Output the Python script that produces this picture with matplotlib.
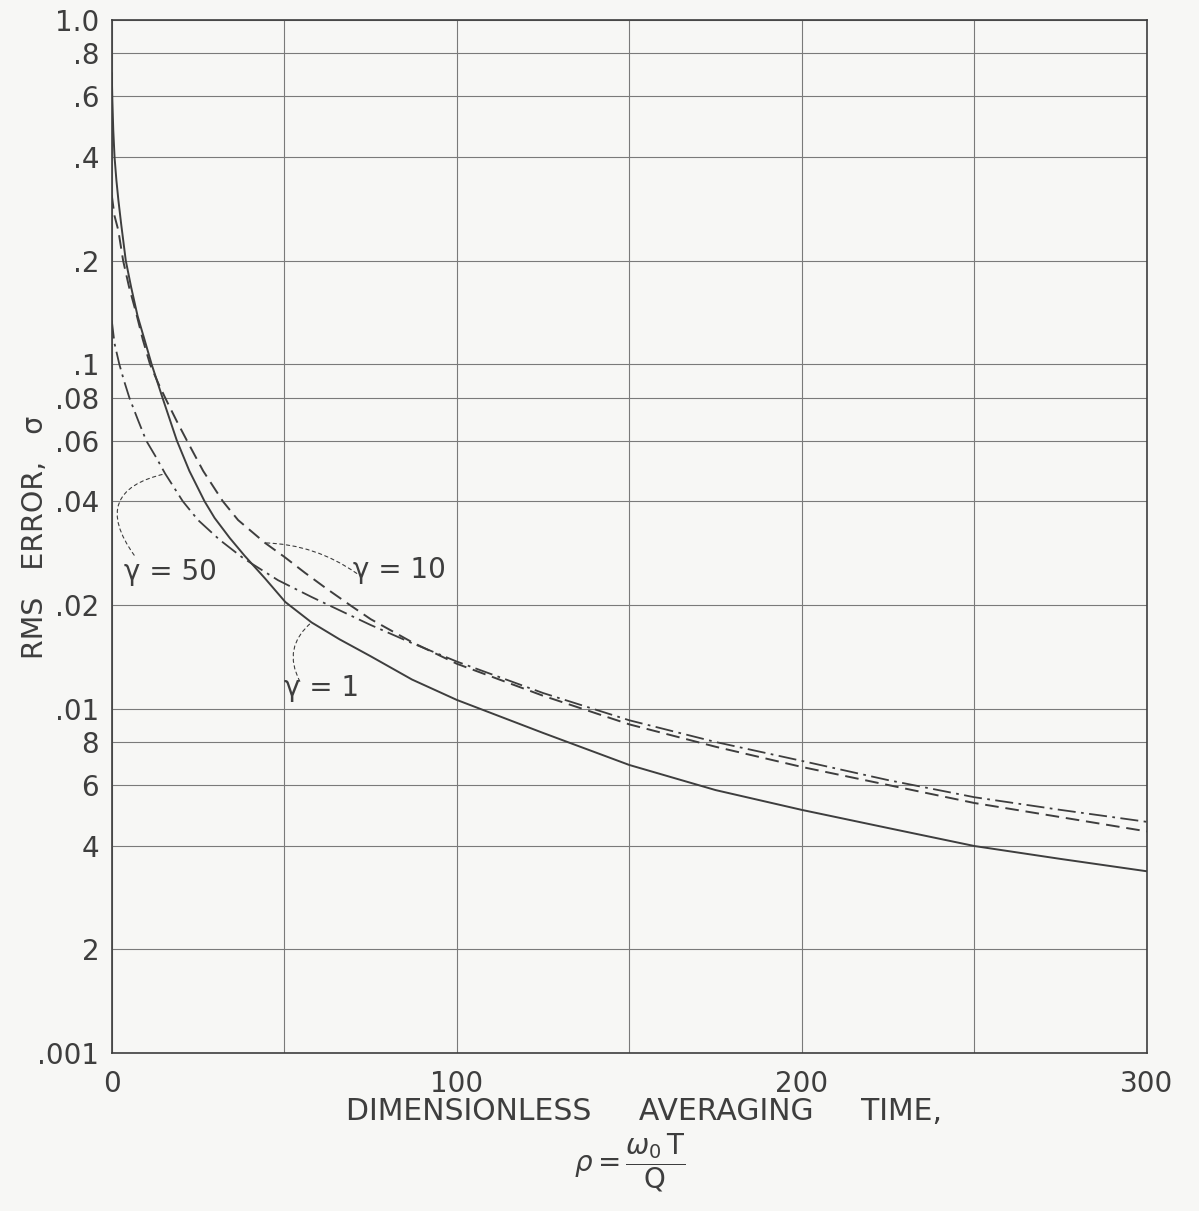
import matplotlib
matplotlib.use("Agg")
import matplotlib.pyplot as plt
from matplotlib.ticker import FixedLocator, FixedFormatter, NullLocator

# curve data: rho (dimensionless averaging time) vs rms error sigma
rho_g1 = [0, 0.17, 0.44, 0.81, 1.34, 1.92, 2.76, 4.07, 5.61, 7.49, 9.53, 11.56, 14.7,
          18.88, 22.5, 26.9, 29.8, 34.2, 38.5, 44.4, 50.3, 57.9, 66, 75, 87, 100, 125,
          150, 175, 200, 225, 250, 275, 300]
sig_g1 = [0.70, 0.586, 0.479, 0.40, 0.343, 0.30, 0.254, 0.20, 0.1677, 0.1381, 0.1176,
          0.10, 0.08, 0.06, 0.049, 0.04, 0.0358, 0.0313, 0.0278, 0.0239, 0.0204,
          0.0178, 0.0159, 0.0142, 0.01215, 0.0106, 0.0085, 0.00686, 0.0058, 0.00508,
          0.0045, 0.00399, 0.00366, 0.00337]

rho_g10 = [0, 0.8, 1.9, 3.3, 5.0, 7.1, 9.0, 11.1, 13.5, 16.0, 18.8, 21.8, 26.5, 32.2,
           36.6, 44.4, 50, 56, 62, 69, 75, 87, 100, 125, 150, 175, 200, 225, 250,
           275, 300]
sig_g10 = [0.31, 0.27, 0.245, 0.20, 0.168, 0.1406, 0.118, 0.10, 0.088, 0.078, 0.0685,
           0.06, 0.049, 0.04, 0.0353, 0.0303, 0.0276, 0.0248, 0.0224, 0.0200, 0.0182,
           0.0156, 0.0135, 0.0109, 0.0090, 0.00775, 0.00677, 0.0060, 0.00532,
           0.00484, 0.0044]

rho_g50 = [0, 0.8, 2.2, 3.5, 5.1, 7.6, 10.0, 12.8, 15.5, 20.6, 25.0, 31.3, 37.6, 40.5,
           48.2, 57.9, 63.7, 75, 87, 100, 125, 150, 175, 200, 225, 250, 275, 300]
sig_g50 = [0.134, 0.115, 0.10, 0.09, 0.08, 0.0689, 0.06, 0.0538, 0.0481, 0.04, 0.0353,
           0.0309, 0.0276, 0.0264, 0.0236, 0.0211, 0.0198, 0.0175, 0.0155, 0.0137,
           0.0111, 0.00925, 0.0080, 0.00705, 0.0062, 0.00553, 0.00508, 0.00469]

y_ticks = [1.0, 0.8, 0.6, 0.4, 0.2, 0.1, 0.08, 0.06, 0.04, 0.02, 0.01,
           0.008, 0.006, 0.004, 0.002, 0.001]
y_labels = ["1.0", ".8", ".6", ".4", ".2", ".1", ".08", ".06", ".04", ".02", ".01",
            "8", "6", "4", "2", ".001"]
x_grid = [0, 50, 100, 150, 200, 250, 300]
x_labels = ["0", "", "100", "", "200", "", "300"]

ink = "#3e3e3e"
grid_c = "#7a7a7a"
bg = "#f7f7f5"

plt.rcParams["font.family"] = ["DejaVu Sans"]
plt.rcParams["mathtext.fontset"] = "dejavusans"

fig = plt.figure(figsize=(11.99, 12.11), dpi=100, facecolor=bg)
ax = fig.add_axes([0.0932, 0.1305, 0.8634, 0.853], facecolor=bg)
ax.set_yscale("log")
ax.set_xlim(0, 300)
ax.set_ylim(0.001, 1.0)

ax.yaxis.set_major_locator(FixedLocator(y_ticks))
ax.yaxis.set_major_formatter(FixedFormatter(y_labels))
ax.yaxis.set_minor_locator(NullLocator())
ax.xaxis.set_major_locator(FixedLocator(x_grid))
ax.xaxis.set_major_formatter(FixedFormatter(x_labels))
ax.tick_params(length=0, labelsize=20, labelcolor=ink, pad=9)
ax.tick_params(axis="x", pad=12)
ax.grid(True, color=grid_c, linewidth=0.8)
for s in ax.spines.values():
    s.set_color(ink)
    s.set_linewidth(1.2)

# curves
ax.plot(rho_g1, sig_g1, color=ink, linewidth=1.4)
ax.plot(rho_g10, sig_g10, color=ink, linewidth=1.4, dashes=(7, 3.5))
ax.plot(rho_g50, sig_g50, color=ink, linewidth=1.3, dashes=(10, 3, 1.5, 3))

# labels with dotted leaders
lbl = dict(fontsize=20, color=ink)
lead = dict(arrowstyle="-", color=ink, linewidth=0.8, linestyle=(0, (3, 3)),
            shrinkA=0, shrinkB=0)

ax.text(17, 0.0249, "γ = 50", ha="center", va="center", **lbl)
ax.annotate("", xy=(rho_g50[8], sig_g50[8]), xytext=(6.5, 0.0279),
            arrowprops=dict(connectionstyle="arc3,rad=-0.75", **lead))

ax.text(83.4, 0.0253, "γ = 10", ha="center", va="center", **lbl)
ax.annotate("", xy=(rho_g10[15], sig_g10[15]), xytext=(71.0, 0.0247),
            arrowprops=dict(connectionstyle="arc3,rad=0.15", **lead))

ax.text(60.7, 0.01148, "γ = 1", ha="center", va="center", **lbl)
ax.annotate("", xy=(rho_g1[21], sig_g1[21]), xytext=(54.5, 0.0120),
            arrowprops=dict(connectionstyle="arc3,rad=-0.4", **lead))

# axis titles
fig.text(35 / 1199, 1 - 537 / 1211, "RMS   ERROR,   σ", rotation=90,
         ha="center", va="center", fontsize=20.5, color=ink)
fig.text(644 / 1199, 1 - 1112 / 1211, "DIMENSIONLESS     AVERAGING     TIME,",
         ha="center", va="center", fontsize=21.5, color=ink)
fig.text(630 / 1199, 1 - 1163 / 1211,
         r"$\rho = \dfrac{\omega_0\,\mathrm{T}}{\mathrm{Q}}$",
         ha="center", va="center", fontsize=20, color=ink)

fig.savefig("out.png", dpi=100, facecolor=bg)
